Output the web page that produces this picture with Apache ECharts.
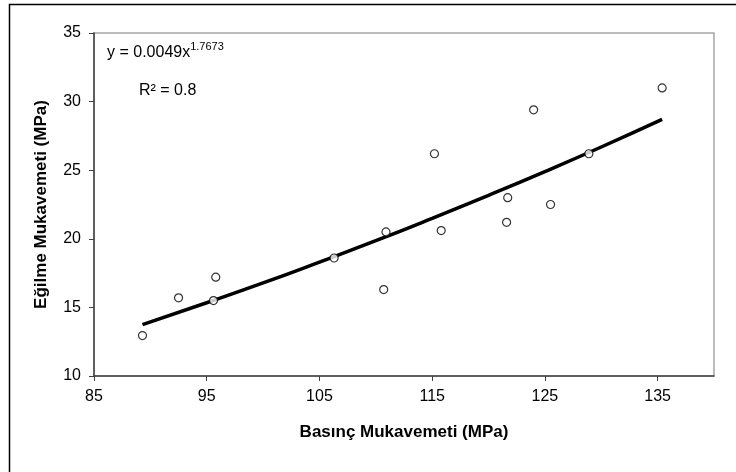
<!DOCTYPE html>
<html>
<head>
<meta charset="utf-8">
<script src="https://cdn.jsdelivr.net/npm/echarts@6/dist/echarts.min.js"></script>
<style>
  html, body { margin: 0; padding: 0; background: #fff; }
  #chart { width: 736px; height: 472px; }
</style>
</head>
<body>
<div id="chart"></div>
<script>
// olculen noktalar
var basinc = [89.3, 92.5, 95.8, 95.6, 106.3, 110.7, 110.9, 115.2, 115.8, 121.6, 121.7, 124.0, 125.5, 128.9, 135.4];
var egilme = [12.95, 15.7, 17.2, 15.5, 18.6, 16.3, 20.5, 26.2, 20.6, 21.2, 23.0, 29.4, 22.5, 26.2, 31.0];

// trend cizgisi (y = 0.0049x^1.7673)
var trendX = [89.3, 95, 100, 105, 110, 115, 120, 125, 130, 135.4];
var trendY = [13.75, 15.34, 16.78, 18.30, 19.86, 21.49, 23.17, 24.90, 26.69, 28.70];

var xTicks = [85, 95, 105, 115, 125, 135];
var yTicks = [10, 15, 20, 25, 30, 35];

var points = basinc.map(function (x, i) { return [x, egilme[i]]; });
var trend = trendX.map(function (x, i) { return [x, trendY[i]]; });

var font = '"Liberation Sans", Arial, sans-serif';
var myChart = echarts.init(document.getElementById('chart'));

myChart.setOption({
  animation: false,
  backgroundColor: '#fff',
  grid: {
    left: 94, right: 22, top: 33, bottom: 96,
    show: true,
    borderColor: '#a6a6a6',
    borderWidth: 1.5
  },
  title: [
    {
      left: 102, top: 36,
      text: '{a|y = 0.0049x}{b|1.7673}',
      textStyle: {
        rich: {
          a: { fontFamily: font, fontSize: 16, fontWeight: 'normal', color: '#000', lineHeight: 20, verticalAlign: 'bottom' },
          b: { fontFamily: font, fontSize: 11, fontWeight: 'normal', color: '#000', lineHeight: 20, verticalAlign: 'top' }
        }
      }
    },
    {
      left: 134, top: 78,
      text: 'R² = 0.8',
      textStyle: { fontFamily: font, fontSize: 16, fontWeight: 'normal', color: '#000' }
    }
  ],
  xAxis: {
    type: 'value',
    min: 85, max: 140,
    name: 'Basınç Mukavemeti (MPa)',
    nameLocation: 'middle',
    nameGap: 48,
    nameTextStyle: { fontFamily: font, fontSize: 17, fontWeight: 'bold', color: '#000' },
    axisLine: { show: true, onZero: false, lineStyle: { color: '#404040', width: 1.5 } },
    axisTick: { show: true, length: 5, customValues: xTicks, lineStyle: { color: '#404040' } },
    axisLabel: { customValues: xTicks, margin: 13, fontFamily: font, fontSize: 16, color: '#000' },
    splitLine: { show: false }
  },
  yAxis: {
    type: 'value',
    min: 10, max: 35, interval: 5,
    name: 'Eğilme Mukavemeti (MPa)',
    nameLocation: 'middle',
    nameGap: 44,
    nameTextStyle: { fontFamily: font, fontSize: 17, fontWeight: 'bold', color: '#000' },
    axisLine: { show: true, onZero: false, lineStyle: { color: '#404040', width: 1.5 } },
    axisTick: { show: true, length: 5, lineStyle: { color: '#404040' } },
    axisLabel: { customValues: yTicks, margin: 13, fontFamily: font, fontSize: 16, color: '#000' },
    splitLine: { show: false }
  },
  series: [
    {
      type: 'line',
      data: trend,
      smooth: true,
      symbol: 'none',
      lineStyle: { color: '#000', width: 3.5 },
      z: 2
    },
    {
      type: 'scatter',
      data: points,
      symbol: 'circle',
      symbolSize: 8,
      itemStyle: { color: '#fff', borderColor: '#000', borderWidth: 1.2 },
      z: 3
    }
  ],
  graphic: [
    {
      type: 'rect',
      shape: { x: 9.5, y: 4.5, width: 800, height: 600 },
      style: { fill: 'none', stroke: '#000', lineWidth: 1.5 },
      silent: true
    }
  ]
});
</script>
</body>
</html>
